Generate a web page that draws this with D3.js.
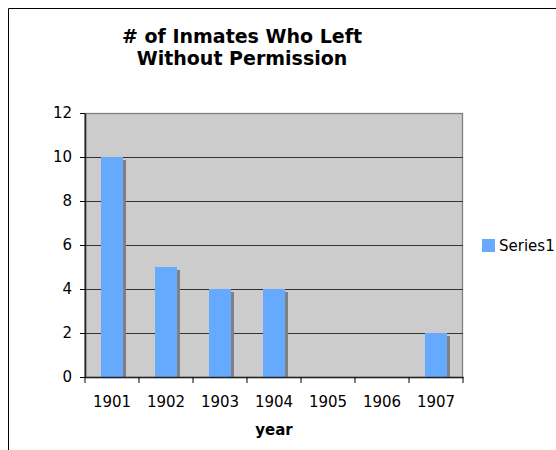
<!DOCTYPE html>
<html>
<head>
<meta charset="utf-8">
<script src="https://cdn.jsdelivr.net/npm/d3@7"></script>
<style>
  body { margin: 0; background: #fff; }
  svg { display: block; }
  svg text { font-family: "DejaVu Sans", Verdana, sans-serif; }
</style>
</head>
<body>
<div id="viz"></div>
<script>
var years = ["1901", "1902", "1903", "1904", "1905", "1906", "1907"];
var inmates = [10, 5, 4, 4, 0, 0, 2];
var yTicks = [0, 2, 4, 6, 8, 10, 12];
var seriesName = "Series1";

var width = 556, height = 450;
var margin = {top: 113, right: 93, bottom: 73, left: 85};

var svg = d3.select("#viz").append("svg")
  .attr("width", width)
  .attr("height", height);

// outer frame (top and left visible)
svg.append("path")
  .attr("d", "M8.5," + height + "V8.5H" + width)
  .attr("fill", "none")
  .attr("stroke", "#000")
  .attr("stroke-width", 1);

var x = d3.scaleBand()
  .domain(years)
  .range([margin.left, width - margin.right]);

var y = d3.scaleLinear()
  .domain([0, 12])
  .range([height - margin.bottom, margin.top]);

// plot background
svg.append("rect")
  .attr("x", margin.left)
  .attr("y", y(12) + 0.5)
  .attr("width", x.range()[1] - margin.left - 0.5)
  .attr("height", y(0) - y(12))
  .attr("fill", "#cccccc")
  .attr("stroke", "#808080")
  .attr("stroke-width", 1.3);

// gridlines
svg.append("g")
  .selectAll("line")
  .data(yTicks.filter(d => d > 0 && d < 12))
  .join("line")
  .attr("x1", margin.left)
  .attr("x2", x.range()[1])
  .attr("y1", d => Math.round(y(d)) + 0.5)
  .attr("y2", d => Math.round(y(d)) + 0.5)
  .attr("stroke", "#333");

var barW = 22;
var bars = svg.append("g")
  .selectAll("g")
  .data(years.map((d, i) => ({year: d, value: inmates[i]})).filter(d => d.value > 0))
  .join("g");

// shadow
bars.append("rect")
  .attr("x", d => x(d.year) + x.bandwidth() / 2 - barW / 2 + 3)
  .attr("y", d => y(d.value) + 3)
  .attr("width", barW)
  .attr("height", d => y(0) - y(d.value) - 3)
  .attr("fill", "#808080");

bars.append("rect")
  .attr("x", d => x(d.year) + x.bandwidth() / 2 - barW / 2)
  .attr("y", d => y(d.value))
  .attr("width", barW)
  .attr("height", d => y(0) - y(d.value))
  .attr("fill", "#66aaff");

// y axis
var yAxis = svg.append("g")
  .attr("transform", "translate(" + margin.left + ",0)")
  .call(d3.axisLeft(y).tickValues(yTicks).tickSize(5).tickPadding(8).tickSizeOuter(0));
yAxis.attr("font-family", null);
yAxis.select(".domain").attr("stroke", "#222").attr("stroke-width", 1.6);
yAxis.selectAll("text").attr("font-size", 15).attr("fill", "#000");

// x axis
var xAxis = svg.append("g")
  .attr("transform", "translate(0," + y(0) + ")")
  .call(d3.axisBottom(x).tickSize(0).tickPadding(19).tickSizeOuter(0));
xAxis.attr("font-family", null);
xAxis.select(".domain").attr("stroke", "#222").attr("stroke-width", 1.6);
xAxis.selectAll("text").attr("font-size", 15).attr("fill", "#000");
xAxis.selectAll(".sep")
  .data(d3.range(years.length + 1))
  .join("line")
  .attr("class", "sep")
  .attr("x1", i => margin.left + i * x.step())
  .attr("x2", i => margin.left + i * x.step())
  .attr("y1", 0)
  .attr("y2", 6)
  .attr("stroke", "#000");

// axis title
svg.append("text")
  .attr("x", (margin.left + x.range()[1]) / 2)
  .attr("y", 435)
  .attr("text-anchor", "middle")
  .attr("font-size", 15)
  .attr("font-weight", "bold")
  .text("year");

// chart title
var title = svg.append("text")
  .attr("text-anchor", "middle")
  .attr("font-size", 19)
  .attr("font-weight", "bold");
title.append("tspan").attr("x", 242).attr("y", 43).text("# of Inmates Who Left");
title.append("tspan").attr("x", 242).attr("y", 65).text("Without Permission");

// legend
var legend = svg.append("g").attr("transform", "translate(482,239)");
legend.append("rect").attr("width", 13).attr("height", 13).attr("fill", "#66aaff");
legend.append("text").attr("x", 17).attr("y", 12).attr("font-size", 15).text(seriesName);
</script>
</body>
</html>
